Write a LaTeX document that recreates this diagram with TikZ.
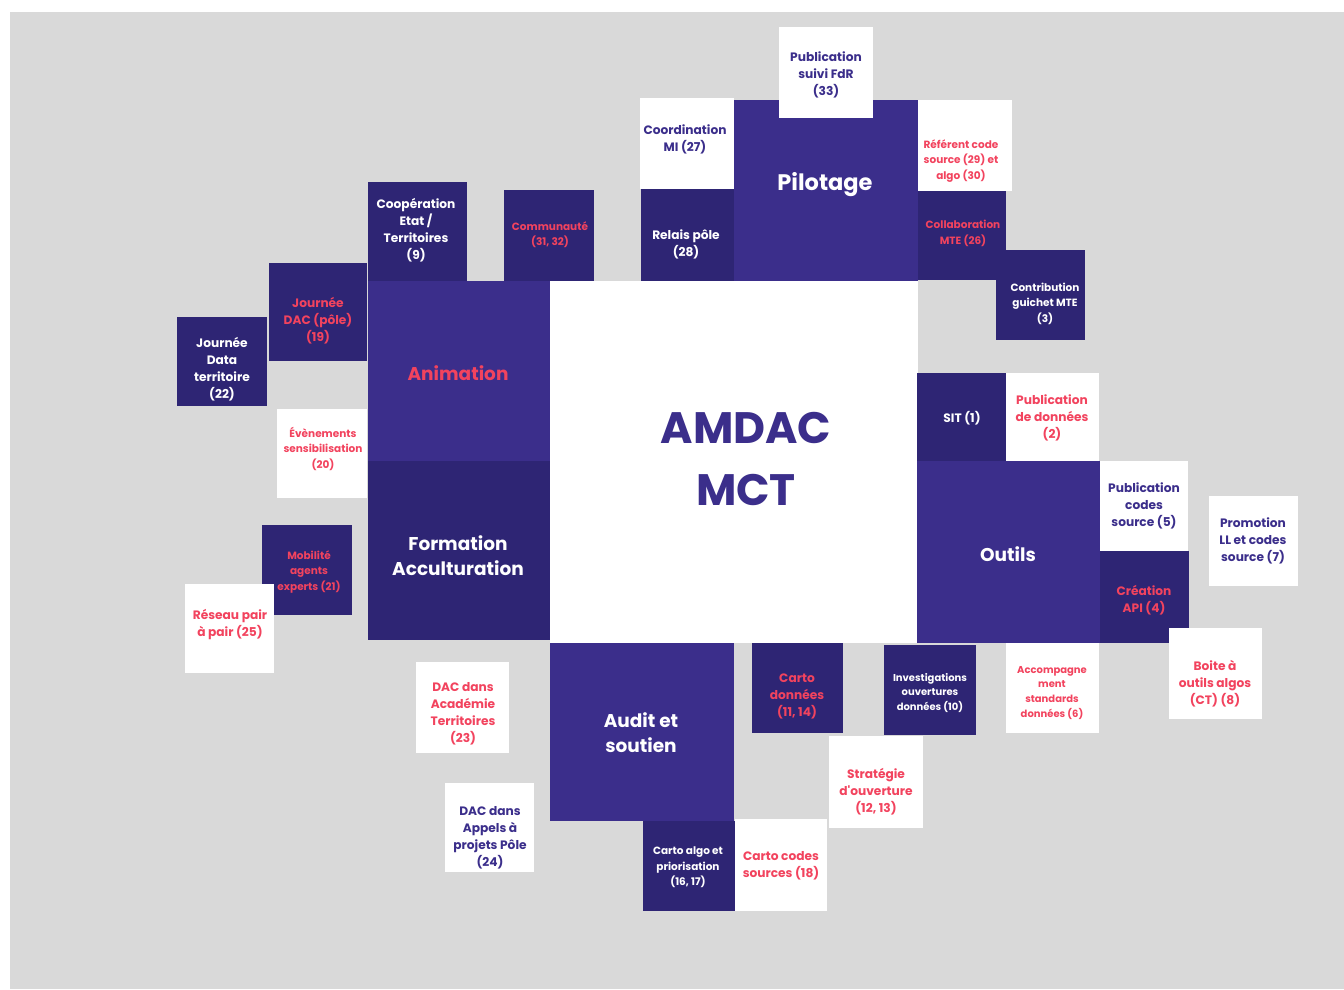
\documentclass[tikz,border=0pt]{standalone}
\usepackage{fontspec}
\setmainfont{Poppins}
\definecolor{bggray}{HTML}{D9D9D9}
\definecolor{dark}{HTML}{2E2574}
\definecolor{mid}{HTML}{3B2E8B}
\definecolor{accent}{HTML}{F2435E}
\definecolor{ink}{HTML}{3B2E8B}
\tikzset{
  box/.style={rectangle, draw=none, inner sep=0pt, outer sep=0pt},
  txt/.style={inner sep=0pt, align=center, yshift=-1.6pt},
  small/.style={txt, font=\bfseries\fontsize{10.5}{15.5}\selectfont},
  med/.style={txt, font=\bfseries\fontsize{12.2}{17}\selectfont},
  cat/.style={txt, font=\bfseries\fontsize{18.5}{25.5}\selectfont},
}
% block: name, left, top, right, bottom, fill
\newcommand\blk[6]{\node[box, fill=#6, minimum width={#4-#2}, minimum height={#5-#3}] (#1) at ({(#2+#4)/2},{(#3+#5)/2}) {};}
\begin{document}
\begin{tikzpicture}[x=1pt, y=-1pt]
\useasboundingbox (0,0) rectangle (1344,989);
\fill[white] (0,0) rectangle (1344,989);
\fill[bggray] (10,12) rectangle (1344,989);

% Pilotage cluster
\blk{coord27}{640}{98}{734}{189}{white}
\blk{relais28}{641}{189}{734}{281}{dark}
\blk{pilot}{734}{100}{918}{281}{mid}
\blk{pub33}{779}{27}{873}{118}{white}
\blk{ref2930}{918}{100}{1012}{191}{white}
\blk{collab26}{918}{191}{1006}{280}{dark}
\blk{contrib3}{996}{250}{1085}{340}{dark}

% centre
\blk{core}{550}{281}{918}{643}{white}

% Animation / Formation cluster
\blk{coop9}{368}{182}{467}{281}{dark}
\blk{commu}{504}{190}{594}{281}{dark}
\blk{anim}{368}{281}{550}{461}{mid}
\blk{form}{368}{461}{550}{640}{dark}
\blk{jdac19}{269}{263}{367}{361}{dark}
\blk{jdata22}{177}{317}{267}{406}{dark}
\blk{even20}{277}{409}{367}{498}{white}
\blk{mobil21}{262}{525}{352}{615}{dark}
\blk{reseau25}{185}{584}{274}{673}{white}

% Outils cluster
\blk{sit1}{917}{373}{1006}{461}{dark}
\blk{pubdon2}{1006}{373}{1099}{461}{white}
\blk{outils}{917}{461}{1100}{643}{mid}
\blk{pubcod5}{1100}{461}{1188}{551}{white}
\blk{api4}{1100}{551}{1189}{643}{dark}
\blk{promo7}{1209}{496}{1298}{586}{white}
\blk{boite8}{1169}{628}{1262}{719}{white}
\blk{accomp6}{1006}{643}{1099}{733}{white}
\blk{invest10}{884}{645}{976}{735}{dark}

% Audit cluster
\blk{carto1114}{752}{643}{843}{733}{dark}
\blk{audit}{550}{643}{734}{821}{mid}
\blk{cartoalgo}{643}{821}{735}{911}{dark}
\blk{cartocod}{735}{819}{827}{911}{white}
\blk{strat}{829}{736}{923}{828}{white}
\blk{dacacad}{416}{662}{509}{753}{white}
\blk{dacapp}{445}{783}{534}{872}{white}

% labels
\node[txt, text=ink, font=\bfseries\fontsize{44}{62}\selectfont] (core-t) at (746,457) {AMDAC\\MCT};
\node[cat, text=white, font=\bfseries\fontsize{22.5}{28}\selectfont] (pilot-t) at (825,183) {Pilotage};
\node[cat, text=accent] (anim-t) at (458,372) {Animation};
\node[cat, text=white] (form-t) at (458,554) {Formation\\Acculturation};
\node[cat, text=white] (outils-t) at (1008,553) {Outils};
\node[cat, text=white] (audit-t) at (641,731) {Audit et\\soutien};

\node[med, text=ink] (pub33-t) at (826,73) {Publication\\suivi FdR\\(33)};
\node[med, text=ink] (coord27-t) at (685,138) {Coordination\\MI (27)};
\node[med, text=white] (relais28-t) at (686,243) {Relais pôle\\(28)};
\node[small, text=accent] (ref2930-t) at (961,159) {Référent code\\source (29) et\\algo (30)};
\node[small, text=accent] (collab26-t) at (963,232) {Collaboration\\MTE (26)};
\node[small, text=white] (contrib3-t) at (1045,302) {Contribution\\guichet MTE\\(3)};

\node[med, text=white] (coop9-t) at (416,229) {Coopération\\Etat /\\Territoires\\(9)};
\node[small, text=accent] (commu-t) at (550,233) {Communauté\\(31, 32)};
\node[med, text=accent] (jdac19-t) at (318,319) {Journée\\DAC (pôle)\\(19)};
\node[med, text=white] (jdata22-t) at (222,368) {Journée\\Data\\territoire\\(22)};
\node[small, text=accent] (even20-t) at (323,447) {Évènements\\sensibilisation\\(20)};
\node[small, text=accent] (mobil21-t) at (309,570) {Mobilité\\agents\\experts (21)};
\node[med, text=accent] (reseau25-t) at (230,623) {Réseau pair\\à pair (25)};

\node[med, text=white] (sit1-t) at (962,417) {SIT (1)};
\node[med, text=accent] (pubdon2-t) at (1052,416) {Publication\\de données\\(2)};
\node[med, text=ink] (pubcod5-t) at (1144,504) {Publication\\codes\\source (5)};
\node[med, text=ink] (promo7-t) at (1253,539) {Promotion\\LL et codes\\source (7)};
\node[med, text=accent] (api4-t) at (1144,599) {Création\\API (4)};
\node[med, text=accent] (boite8-t) at (1215,682) {Boite à\\outils algos\\(CT) (8)};
\node[small, text=accent, font=\bfseries\fontsize{10}{14.7}\selectfont] (accomp6-t) at (1052,691) {Accompagne\\ment\\standards\\données (6)};
\node[small, text=white, font=\bfseries\fontsize{10}{14.5}\selectfont] (invest10-t) at (930,691) {Investigations\\ouvertures\\données (10)};

\node[med, text=accent] (carto1114-t) at (797,695) {Carto\\données\\(11, 14)};
\node[med, text=accent] (strat-t) at (876,790) {Stratégie\\d\textquotesingle ouverture\\(12, 13)};
\node[med, text=accent] (dacacad-t) at (463,712) {DAC dans\\Académie\\Territoires\\(23)};
\node[med, text=ink] (dacapp-t) at (490,836) {DAC dans\\Appels à\\projets Pôle\\(24)};
\node[small, text=white] (cartoalgo-t) at (688,866) {Carto algo et\\priorisation\\(16, 17)};
\node[med, text=accent] (cartocod-t) at (781,864) {Carto codes\\sources (18)};
\end{tikzpicture}
\end{document}
